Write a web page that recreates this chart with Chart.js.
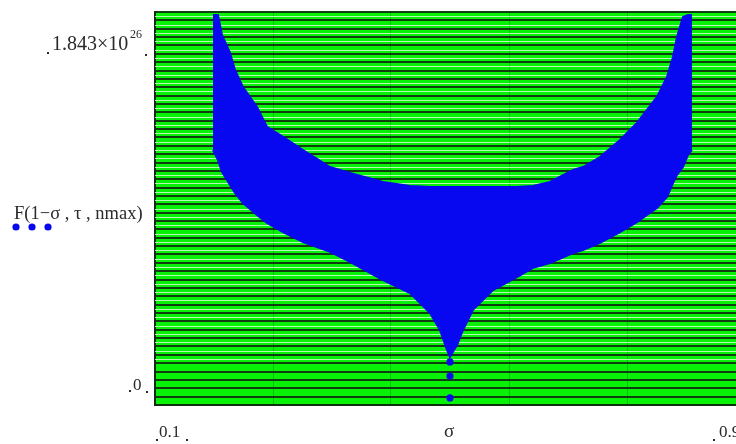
<!DOCTYPE html>
<html>
<head>
<meta charset="utf-8">
<script src="https://cdn.jsdelivr.net/npm/chart.js@4.4.1/dist/chart.umd.min.js"></script>
<style>
    html, body { margin: 0; padding: 0; background: #fff; overflow: hidden; width: 736px; height: 444px; }
    #wrap { position: relative; width: 760px; height: 444px; }
</style>
</head>
<body>
<div id="wrap"><canvas id="myChart" width="760" height="444"></canvas></div>
<script>
// sigma values (x) and the top / bottom edge of the cloud of F values, in units of 10^26
const sigma = [0.1786, 0.1854, 0.1908, 0.2017, 0.2085, 0.2193, 0.2383, 0.2519, 0.2736, 0.3007,
    0.3373, 0.3644, 0.4091, 0.4458, 0.4729, 0.4864, 0.4959, 0.5, 0.5054, 0.5095,
    0.5176, 0.5312, 0.5583, 0.5908, 0.6125, 0.6356, 0.6668, 0.6803, 0.7034, 0.7305,
    0.7535, 0.7671, 0.7807, 0.7942, 0.8024, 0.8078, 0.8159, 0.8227, 0.8281];
const upperF = [1.829, 1.829, 1.735, 1.651, 1.571, 1.491, 1.398, 1.304, 1.257, 1.196,
    1.116, 1.088, 1.046, 1.027, 1.022, 1.022, 1.022, 1.022, 1.022, 1.022,
    1.022, 1.022, 1.022, 1.022, 1.027, 1.046, 1.102, 1.116, 1.163, 1.243,
    1.323, 1.384, 1.445, 1.538, 1.632, 1.726, 1.820, 1.829, 1.829];
const lowerF = [1.196, 1.149, 1.093, 1.032, 0.994, 0.947, 0.891, 0.854, 0.811, 0.764,
    0.718, 0.671, 0.586, 0.525, 0.431, 0.352, 0.258, 0.225, 0.258, 0.281,
    0.352, 0.446, 0.539, 0.600, 0.643, 0.666, 0.713, 0.727, 0.760, 0.811,
    0.858, 0.891, 0.924, 0.976, 1.041, 1.079, 1.116, 1.173, 1.196];
// the isolated points under the spike
const tailSigma = [0.5, 0.5, 0.5];
const tailF = [0.202, 0.136, 0.033];

const xMin = 0.1, xMax = 0.9;
const yMax = 1.843;
const blue = 'rgb(8, 8, 240)';

const ctx = document.getElementById('myChart');

const plotBack = {
    id: 'plotBack',
    beforeDraw(chart) {
        const a = chart.chartArea, c = chart.ctx;
        c.save();
        c.fillStyle = 'rgb(8, 242, 8)';
        c.fillRect(a.left, a.top, a.right - a.left, a.bottom - a.top);
        c.restore();
    },
    beforeDatasetsDraw(chart) {
        // light lines between the dark grid lines
        const y = chart.scales.y, c = chart.ctx, a = chart.chartArea;
        const px = y.ticks.map(t => y.getPixelForValue(t.value)).sort((p, q) => p - q);
        c.save();
        c.strokeStyle = 'rgba(215, 250, 215, 0.85)';
        c.lineWidth = 1;
        for (let i = 0; i < px.length - 1; i++) {
            const m = Math.round((px[i] + px[i + 1]) / 2) + 0.5;
            if (m > 366) continue;
            c.beginPath();
            c.moveTo(a.left, m);
            c.lineTo(a.right, m);
            c.stroke();
        }
        c.restore();
    }
};

const labels = {
    id: 'labels',
    afterDraw(chart) {
        const c = chart.ctx;
        c.save();
        c.fillStyle = '#2a2a2a';
        c.textBaseline = 'alphabetic';
        c.font = '20px "Liberation Serif"';
        c.fillText('1.843×10', 52, 50);
        c.font = '12px "Liberation Serif"';
        c.fillText('26', 130, 38);
        c.font = '18.5px "Liberation Serif"';
        c.fillText('F(1−σ , τ , nmax)', 14, 219);
        c.font = '17px "Liberation Serif"';
        c.fillText('0', 133, 390);
        c.fillText('0.1', 159, 437);
        c.fillText('0.9', 719, 437);
        c.font = '19px "Liberation Serif"';
        c.textAlign = 'center';
        c.fillText('σ', 449, 437);
        // placeholder marks
        [[47, 52], [145, 54], [129, 390], [146, 391], [156, 439], [186, 439], [713, 439]].forEach(p => {
            c.fillRect(p[0], p[1], 2, 2);
        });
        // trace marker
        c.fillStyle = blue;
        [16, 32, 48].forEach(x => {
            c.beginPath();
            c.arc(x, 227, 3.6, 0, Math.PI * 2);
            c.fill();
        });
        c.restore();
    }
};

new Chart(ctx, {
    type: 'line',
    data: {
        datasets: [{
            label: 'top',
            data: sigma.map((s, i) => ({ x: s, y: upperF[i] })),
            borderColor: blue,
            backgroundColor: blue,
            borderWidth: 2,
            pointRadius: 0,
            fill: '+1',
            tension: 0
        }, {
            label: 'bottom',
            data: sigma.map((s, i) => ({ x: s, y: lowerF[i] })),
            borderColor: blue,
            borderWidth: 2,
            pointRadius: 0,
            fill: false,
            tension: 0
        }, {
            label: 'tail',
            data: tailSigma.map((s, i) => ({ x: s, y: tailF[i] })),
            showLine: false,
            pointRadius: 3.6,
            pointBackgroundColor: blue,
            pointBorderWidth: 0
        }]
    },
    options: {
        responsive: false,
        animation: false,
        layout: { padding: { left: 155, top: 12, right: 15, bottom: 39 } },
        plugins: { legend: { display: false }, tooltip: { enabled: false } },
        scales: {
            x: {
                type: 'linear',
                min: xMin,
                max: xMax,
                ticks: { display: false, count: 6 },
                grid: { color: 'rgba(0, 70, 0, 0.3)', lineWidth: 1, drawTicks: false },
                border: { color: 'rgb(15, 45, 15)', width: 2 }
            },
            y: {
                min: 0,
                max: yMax,
                ticks: { display: false, count: 48 },
                grid: { color: 'rgb(16, 62, 16)', lineWidth: 2, drawTicks: false },
                border: { color: 'rgb(15, 45, 15)', width: 2 }
            }
        }
    },
    plugins: [plotBack, labels]
});
</script>
</body>
</html>
